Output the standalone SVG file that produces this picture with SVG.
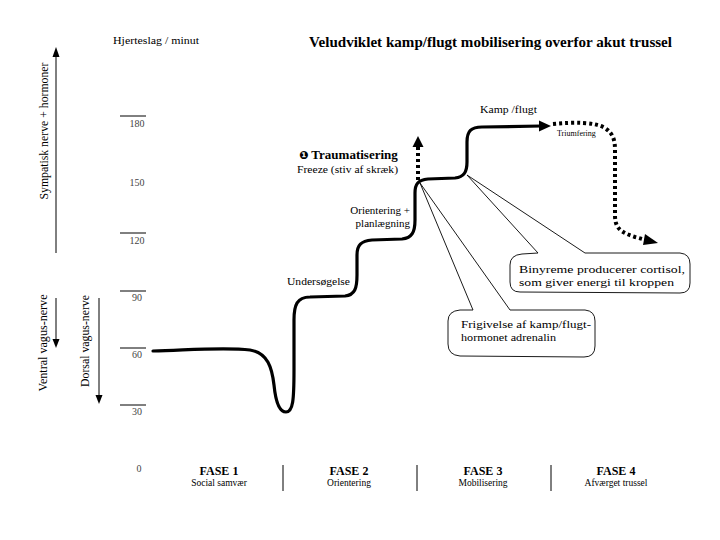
<svg xmlns="http://www.w3.org/2000/svg" width="720" height="540" viewBox="0 0 720 540">
<style>
text{font-family:"Liberation Serif","Times New Roman",serif;fill:#000}
.ax{font-size:10px;fill:#444;text-anchor:middle}
.tick{stroke:#000;stroke-width:1}
.thin{stroke:#000;stroke-width:1;fill:none}
.curve{stroke:#000;stroke-width:3.2;fill:none;stroke-linecap:round;stroke-linejoin:round}
.dot{stroke:#000;stroke-width:4;fill:none;stroke-dasharray:3 3}
.call{stroke:#000;stroke-width:0.9;fill:#fff;stroke-linejoin:round}
.fase{font-size:12px;font-weight:bold;text-anchor:middle}
.sub{font-size:9.5px;text-anchor:middle}
.lab{font-size:11px}
</style>
<rect width="720" height="540" fill="#fff"/>

<g id="title">
<text x="113" y="44" font-size="10" textLength="86" lengthAdjust="spacingAndGlyphs">Hjerteslag / minut</text>
<text x="309" y="47" font-size="14" font-weight="bold" textLength="363" lengthAdjust="spacingAndGlyphs">Veludviklet kamp/flugt mobilisering overfor akut trussel</text>
</g>

<g id="axis">
<line class="tick" x1="120" y1="116" x2="146" y2="116"/>
<line class="tick" x1="120" y1="233" x2="146" y2="233"/>
<line class="tick" x1="120" y1="291" x2="146" y2="291"/>
<line class="tick" x1="120" y1="348" x2="146" y2="348"/>
<line class="tick" x1="120" y1="405" x2="146" y2="405"/>
<text class="ax" x="137" y="127">180</text>
<text class="ax" x="137" y="186">150</text>
<text class="ax" x="137" y="244">120</text>
<text class="ax" x="137" y="301">90</text>
<text class="ax" x="137" y="358">60</text>
<text class="ax" x="137" y="415">30</text>
<text class="ax" x="139" y="472">0</text>
</g>

<g id="side-arrows">
<line class="thin" x1="56" y1="253" x2="56" y2="56"/>
<polygon points="56,47 52.5,57 59.5,57" fill="#000"/>
<text transform="translate(48,131) rotate(-90)" font-size="12" text-anchor="middle" textLength="137" lengthAdjust="spacingAndGlyphs">Sympatisk nerve + hormoner</text>
<line class="thin" x1="56" y1="298" x2="56" y2="340"/>
<polygon points="56,348 52.5,339 59.5,339" fill="#000"/>
<text transform="translate(47,343) rotate(-90)" font-size="11.5" text-anchor="middle" textLength="97" lengthAdjust="spacingAndGlyphs">Ventral vagus-nerve</text>
<line class="thin" x1="99" y1="298" x2="99" y2="396"/>
<polygon points="99,404 95.5,395 102.5,395" fill="#000"/>
<text transform="translate(89,341) rotate(-90)" font-size="11.5" text-anchor="middle" textLength="92" lengthAdjust="spacingAndGlyphs">Dorsal vagus-nerve</text>
</g>

<g id="connectors">
<path class="curve" d="M153,351 C190,350 225,347 250,350 C268,353 272,368 274,385 C276,405 280,412 286,412 C293,412 294,400 294,370 L294,320 C294,305 297,297 310,297 L345,296 C355,295 357,288 357,275 L357,255 C357,245 361,241 372,240 L402,239 C412,238 415,232 415,220 L415,193 C415,184 418,180 428,179 L455,178 C464,177 467,172 467,162 L467,142 C467,131 471,127 482,127 L541,126"/>
<polygon points="551,126 539,120.5 539,131.5" fill="#000"/>
<path class="dot" d="M553,124 C575,122 595,122 605,128 C614,134 615,142 615,150 L615,215 C615,228 620,232 635,237 L646,240"/>
<polygon points="658,243 645,234 643,245" fill="#000"/>
<line class="dot" x1="418" y1="180" x2="418" y2="146"/>
<polygon points="418,136 412.5,147 423.5,147" fill="#000"/>
</g>

<g id="node-labels">
<text x="480" y="113" class="lab" textLength="57" lengthAdjust="spacingAndGlyphs">Kamp /flugt</text>
<text x="557" y="136" font-size="8">Triumfering</text>
<text x="299" y="159" font-size="13" font-weight="bold"><tspan font-family="DejaVu Sans" font-size="11">❶</tspan> Traumatisering</text>
<text x="297" y="173" class="lab" textLength="101" lengthAdjust="spacingAndGlyphs">Freeze (stiv af skræk)</text>
<text x="410" y="214" class="lab" text-anchor="end">Orientering +</text>
<text x="410" y="227" class="lab" text-anchor="end">planlægning</text>
<text x="287" y="285" class="lab" textLength="63" lengthAdjust="spacingAndGlyphs">Undersøgelse</text>
</g>

<g id="callout-cortisol">
<path class="call" d="M538,253 L467,175 L585,253 L680,253 Q690,254 690,264 L690,283 Q690,293 680,293 L520,292 Q510,292 510,282 L510,265 Q510,255 522,254 Z"/>
<text x="519" y="273" font-size="11" textLength="166" lengthAdjust="spacingAndGlyphs">Binyreme producerer cortisol,</text>
<text x="519" y="286" font-size="11" textLength="155" lengthAdjust="spacingAndGlyphs">som giver energi til kroppen</text>
</g>

<g id="callout-adrenalin">
<path class="call" d="M473,310 L420,183 L510,310 L585,310 Q595,311 595,321 L595,346 Q595,357 584,357 L460,356 Q448,355 448,344 L448,321 Q448,311 460,310 Z"/>
<text x="461" y="328" font-size="11" textLength="130" lengthAdjust="spacingAndGlyphs">Frigivelse af kamp/flugt-</text>
<text x="461" y="341" font-size="11" textLength="95" lengthAdjust="spacingAndGlyphs">hormonet adrenalin</text>
</g>

<g id="phases">
<line class="tick" x1="283" y1="465" x2="283" y2="491"/>
<line class="tick" x1="417" y1="465" x2="417" y2="491"/>
<line class="tick" x1="551" y1="465" x2="551" y2="491"/>
<g id="fase1"><text class="fase" x="219" y="475">FASE 1</text><text class="sub" x="219" y="486">Social samvær</text></g>
<g id="fase2"><text class="fase" x="349" y="475">FASE 2</text><text class="sub" x="349" y="486">Orientering</text></g>
<g id="fase3"><text class="fase" x="483" y="475">FASE 3</text><text class="sub" x="483" y="486">Mobilisering</text></g>
<g id="fase4"><text class="fase" x="616" y="475">FASE 4</text><text class="sub" x="616" y="486">Afværget trussel</text></g>
</g>
</svg>
